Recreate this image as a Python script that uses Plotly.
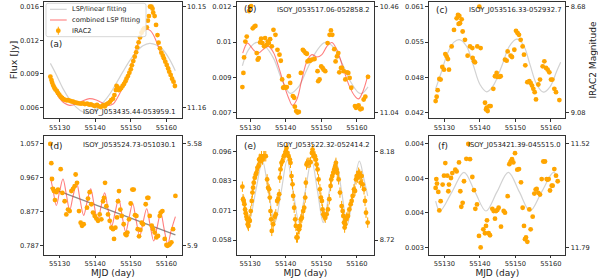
import numpy as np
import plotly.graph_objects as go

MJY = 1e-3
FONT = "DejaVu Sans"

x_tick_vals = [55130, 55140, 55150, 55160]
x_tick_text = ["55130", "55140", "55150", "55160"]

# ---------------- panel (a) ----------------
a_mjd = [55127.4, 55127.7, 55127.9, 55128.2, 55128.5, 55128.8, 55129.2, 55129.5, 55129.9, 55130.3,
         55130.7, 55131.0, 55131.4, 55131.9, 55132.3, 55132.8, 55133.3, 55133.8, 55134.3, 55134.9,
         55135.4, 55136.0, 55136.6, 55137.1, 55137.7, 55138.3, 55138.8, 55139.4, 55139.9, 55140.5,
         55141.1, 55141.6, 55142.2, 55142.7, 55143.1, 55143.6, 55144.1, 55144.5, 55145.0, 55145.4,
         55145.8, 55146.0, 55146.3, 55146.6, 55147.0, 55147.3, 55147.7, 55148.1, 55148.5, 55148.8,
         55149.2, 55149.6, 55150.0, 55150.3, 55150.7, 55151.1, 55151.5, 55151.8, 55152.2, 55152.6,
         55153.0, 55153.4, 55153.7, 55154.1, 55154.5, 55154.8, 55155.1, 55155.4, 55155.8, 55156.1,
         55156.3, 55156.7, 55157.1, 55157.5, 55157.8, 55158.2, 55158.6, 55159.0, 55159.3, 55159.7,
         55160.1, 55160.5, 55160.8, 55161.2, 55161.6, 55162.0, 55162.4]
a_flux_mjy = [9.06, 8.74, 8.49, 8.24, 8.02, 7.86, 7.71, 7.52, 7.36, 7.17,
              7.05, 6.95, 6.89, 6.83, 6.86, 6.80, 6.73, 6.70, 6.64, 6.58,
              6.55, 6.52, 6.55, 6.48, 6.52, 6.42, 6.45, 6.36, 6.29, 6.39,
              6.26, 6.20, 6.36, 6.26, 6.45, 6.55, 6.67, 6.86, 6.99, 7.33,
              7.80, 8.18, 8.05, 7.80, 7.87, 7.99, 8.18, 8.37, 8.62, 8.87,
              9.12, 9.43, 9.75, 10.13, 10.53, 10.94, 11.35, 11.82, 12.29, 12.76,
              13.20, 13.45, 13.58, 13.64, 13.71, 14.33, 14.77, 15.65, 15.65, 15.46,
              15.09, 14.77, 13.93, 12.98, 12.26, 11.73, 11.32, 11.04, 10.79, 10.47,
              10.16, 9.84, 9.53, 9.22, 8.87, 8.59, 8.18]
a_lsp_mjd = [55127.4, 55129.1, 55130.9, 55132.8, 55134.7, 55136.6, 55138.4, 55140.3, 55142.2, 55144.1,
             55145.9, 55147.8, 55149.7, 55151.6, 55153.4, 55155.3, 55157.2, 55159.1, 55160.9, 55162.5]
a_lsp_mjy = [10.31, 9.22, 7.96, 6.92, 6.17, 5.73, 5.67, 5.98, 6.61, 7.43,
             8.43, 9.53, 10.57, 11.41, 11.98, 12.2, 12.04, 11.57, 10.69, 9.62]
a_comb_mjd = [55127.4, 55128.6, 55130.0, 55131.4, 55132.8, 55134.7, 55136.6, 55138.4, 55140.3, 55142.2,
              55143.6, 55145.0, 55146.4, 55147.8, 55149.2, 55150.6, 55152.0, 55153.3, 55154.4, 55155.5,
              55156.7, 55158.1, 55159.5, 55160.9, 55162.5]
a_comb_mjy = [8.90, 7.86, 7.02, 6.55, 6.36, 6.48, 6.80, 6.99, 6.86, 6.55,
              6.36, 6.48, 7.17, 8.12, 9.22, 10.63, 12.2, 13.2, 13.55, 13.39,
              12.76, 11.57, 10.47, 9.53, 8.43]
a_ytick_text = ["0.006", "0.009", "0.012", "0.016"]
a_mag_text = ["11.16", "10.15"]
a_flux_ends = [0.00617, 0.01565]

# ---------------- panel (b) ----------------
b_mjd = [55127.85, 55128.13, 55128.32, 55128.69, 55129.07, 55129.72, 55130.0, 55130.29, 55130.76, 55131.22,
         55131.5, 55131.88, 55132.16, 55132.44, 55132.82, 55133.1, 55133.47, 55133.94, 55134.22, 55134.69,
         55134.97, 55135.26, 55135.63, 55136.1, 55136.57, 55137.13, 55137.69, 55138.26, 55138.63, 55139.0,
         55139.29, 55139.66, 55140.04, 55140.32, 55140.88, 55141.26, 55142.01, 55142.38, 55142.57, 55142.94,
         55143.32, 55143.69, 55144.25, 55144.82, 55145.19, 55145.57, 55145.94, 55146.13, 55146.5, 55146.88,
         55147.35, 55148.1, 55148.94, 55149.13, 55149.5, 55149.97, 55150.35, 55150.63, 55151.1, 55151.76,
         55152.32, 55152.69, 55153.07, 55153.63, 55154.0, 55154.38, 55154.76, 55155.04, 55155.51, 55155.79,
         55156.26, 55156.73, 55157.19, 55157.57, 55157.94, 55158.41, 55159.44, 55159.72, 55160.0, 55160.47,
         55160.94, 55161.32, 55161.88, 55162.35, 55163.1]
b_flux_mjy = [8.07, 8.72, 9.43, 10.16, 10.39, 11.56, 11.73, 11.79, 10.77, 10.85,
              10.88, 9.63, 9.33, 9.40, 10.12, 10.29, 10.09, 9.94, 10.32, 10.01,
              10.16, 10.09, 10.27, 9.94, 10.70, 10.47, 9.78, 9.56, 9.28, 8.42,
              8.04, 8.08, 8.04, 8.07, 8.57, 8.26, 7.66, 7.58, 7.17, 6.97,
              6.90, 6.93, 8.72, 9.78, 9.71, 9.63, 9.60, 9.25, 9.30, 9.28,
              9.33, 9.36, 8.80, 8.34, 8.42, 9.02, 8.95, 8.87, 8.80, 10.09,
              10.47, 10.67, 10.47, 9.81, 9.25, 9.48, 9.63, 8.75, 8.95, 8.95,
              8.80, 8.42, 8.75, 8.72, 8.49, 8.04, 7.20, 7.12, 7.17, 7.23,
              7.05, 7.08, 7.50, 7.63, 8.54]
b_lsp_mjd = [55127.85, 55129.54, 55131.88, 55134.22, 55136.57, 55138.91, 55141.26, 55143.6, 55145.94,
             55148.29, 55150.63, 55151.57, 55153.44, 55155.79, 55158.13, 55160.47, 55161.41, 55163.1]
b_lsp_mjy = [9.05, 9.78, 10.12, 9.94, 9.40, 8.42, 7.78, 8.08, 8.87,
             9.63, 10.09, 10.12, 9.89, 9.18, 8.34, 7.81, 7.78, 8.08]
b_comb_mjd = [55127.94, 55129.26, 55130.19, 55131.13, 55132.35, 55133.76, 55135.16, 55136.57, 55137.97,
              55139.38, 55140.79, 55141.91, 55143.13, 55144.54, 55145.94, 55147.35, 55148.76, 55150.16,
              55151.57, 55152.97, 55154.38, 55156.26, 55157.94, 55159.54, 55160.47, 55161.69, 55163.1]
b_comb_mjy = [9.63, 10.09, 9.94, 9.75, 9.63, 9.81, 9.94, 9.66, 9.02,
              8.26, 7.58, 7.23, 7.50, 8.42, 9.25, 9.56, 9.45, 9.56,
              9.94, 10.12, 9.78, 8.87, 8.08, 7.63, 7.53, 7.88, 8.64]
b_ytick_text = ["0.007", "0.009", "0.01", "0.012"]
b_mag_text = ["11.04", "10.46"]
b_flux_ends = [0.006895, 0.01176]

# ---------------- panel (c) ----------------
c_mjd = [55127.56, 55127.85, 55128.13, 55128.6, 55128.97, 55129.44, 55129.91, 55130.28, 55130.66, 55131.03,
         55131.31, 55132.06, 55132.72, 55133.47, 55133.85, 55134.03, 55134.22, 55134.41, 55134.88, 55135.16,
         55135.81, 55136.56, 55137.22, 55137.88, 55137.97, 55138.35, 55138.63, 55139.28, 55139.85, 55140.22,
         55141.44, 55141.72, 55141.91, 55142.19, 55142.66, 55143.03, 55143.78, 55144.25, 55144.72, 55145.0,
         55145.47, 55145.85, 55147.06, 55147.53, 55147.81, 55148.66, 55149.03, 55149.69, 55150.16, 55150.63,
         55151.0, 55151.47, 55152.03, 55152.41, 55152.78, 55153.35, 55153.91, 55154.28, 55154.66, 55155.03,
         55155.41, 55155.78, 55156.44, 55156.91, 55157.66, 55158.13, 55158.6, 55159.06, 55159.53, 55160.0,
         55160.38, 55160.94, 55161.41, 55162.35]
c_flux_mjy = [44.26, 45.03, 46.20, 48.20, 48.08, 50.31, 49.84, 52.60, 52.19, 51.72,
              49.84, 53.96, 56.89, 58.95, 59.54, 57.95, 59.36, 58.07, 58.77, 56.60,
              55.13, 52.31, 53.96, 53.66, 51.90, 51.31, 51.13, 53.96, 61.0, 53.66,
              43.97, 42.79, 43.09, 42.50, 43.38, 43.38, 46.43, 48.67, 49.26, 48.55,
              48.55, 48.67, 51.60, 51.43, 53.07, 52.31, 52.08, 53.37, 56.72, 56.31,
              56.01, 55.13, 53.96, 52.49, 50.61, 47.61, 47.79, 47.49, 47.02, 46.43,
              45.85, 44.56, 47.20, 48.08, 50.43, 51.31, 50.14, 49.84, 49.37, 48.08,
              48.08, 46.43, 45.85, 44.44]
c_lsp_mjd = [55127.56, 55129.25, 55130.94, 55132.72, 55134.41, 55136.28, 55138.16, 55140.03, 55141.91, 55143.78,
             55146.13, 55148.28, 55150.35, 55152.22, 55154.1, 55155.97, 55157.85, 55159.72, 55161.6, 55162.72]
c_lsp_mjy = [46.43, 49.55, 52.78, 54.72, 55.13, 53.96, 50.61, 47.2, 45.91, 47.02,
             50.43, 53.96, 55.25, 54.25, 50.72, 47.2, 45.85, 46.79, 49.55, 51.13]
c_ytick_text = ["0.042", "0.048", "0.055", "0.061"]
c_mag_text = ["9.08", "8.68"]
c_flux_ends = [0.0422, 0.0610]

# ---------------- panel (d) ----------------
d_mjd = [55127.38, 55127.66, 55127.85, 55128.13, 55128.41, 55128.69, 55129.07, 55129.54, 55130.29, 55130.76,
         55131.41, 55131.88, 55132.35, 55132.82, 55133.29, 55133.76, 55134.22, 55134.5, 55134.88, 55135.44,
         55135.91, 55136.29, 55136.76, 55137.69, 55137.97, 55138.44, 55138.91, 55139.38, 55139.85, 55140.32,
         55140.79, 55141.26, 55141.72, 55142.19, 55142.47, 55142.76, 55143.13, 55143.6, 55144.07, 55144.54,
         55145.01, 55145.29, 55145.66, 55146.13, 55146.41, 55146.69, 55147.07, 55147.44, 55148.0, 55148.47,
         55148.76, 55149.04, 55149.51, 55149.97, 55150.44, 55150.82, 55151.19, 55151.57, 55151.94, 55152.32,
         55152.69, 55153.07, 55153.44, 55154.19, 55154.66, 55154.94, 55155.32, 55155.88, 55156.26, 55156.72,
         55157.19, 55157.66, 55158.13, 55158.41, 55158.88, 55159.54, 55160.01, 55160.29, 55160.66, 55160.94,
         55161.41, 55161.88, 55162.54]
d_flux_jy = [1.057, 1.006, 0.964, 0.938, 0.932, 0.908, 0.929, 0.936, 0.990, 0.927,
             0.905, 0.870, 0.883, 0.879, 0.932, 0.938, 0.945, 0.976, 0.954, 0.879,
             0.848, 0.840, 0.844, 0.888, 0.912, 0.929, 0.897, 0.875, 0.866, 0.859,
             0.853, 0.870, 0.857, 0.905, 0.914, 0.954, 0.892, 0.870, 0.853, 0.835,
             0.831, 0.805, 0.835, 0.862, 0.905, 0.932, 0.883, 0.866, 0.844, 0.818,
             0.815, 0.822, 0.857, 0.899, 0.936, 0.936, 0.868, 0.866, 0.831, 0.812,
             0.829, 0.848, 0.844, 0.897, 0.914, 0.914, 0.866, 0.840, 0.831, 0.822,
             0.809, 0.813, 0.866, 0.875, 0.879, 0.805, 0.789, 0.787, 0.789, 0.791,
             0.796, 0.831, 0.919]
d_lsp_mjd = [55127.38, 55162.54]
d_lsp_jy = [0.9404, 0.8159]
d_comb_mjd = [55127.38, 55128.13, 55129.07, 55130.0, 55130.94, 55131.88, 55132.82, 55133.76, 55134.79, 55135.72,
              55136.76, 55137.69, 55138.72, 55139.66, 55140.69, 55141.63, 55142.66, 55143.6, 55144.63, 55145.57,
              55146.6, 55147.54, 55148.57, 55149.51, 55150.54, 55151.47, 55152.51, 55153.44, 55154.47, 55155.41,
              55156.44, 55157.38, 55158.41, 55159.35, 55160.38, 55161.32, 55162.54]
d_comb_jy = [0.9700, 0.9360, 0.8939, 0.9316, 0.9641, 0.9229, 0.8817, 0.9185, 0.9535, 0.9097,
             0.8676, 0.9027, 0.9378, 0.8966, 0.8527, 0.8904, 0.9272, 0.8834, 0.8396, 0.8746,
             0.9115, 0.8676, 0.8238, 0.8615, 0.8992, 0.8554, 0.8133, 0.8484, 0.8852, 0.8422,
             0.7998, 0.8352, 0.8746, 0.8326, 0.7914, 0.8265, 0.8641]
d_ytick_text = ["0.787", "0.877", "0.967", "1.057"]
d_mag_text = ["5.9", "5.58"]
d_flux_ends = [0.787, 1.057]

# ---------------- panel (e) ----------------
e_mjd = [55127.85, 55128.04, 55128.23, 55128.42, 55128.6, 55128.79, 55128.98, 55129.17, 55129.35, 55129.54,
         55129.73, 55129.92, 55130.2, 55130.48, 55130.67, 55130.85, 55131.04, 55131.32, 55131.6, 55131.79,
         55132.07, 55132.35, 55132.54, 55132.73, 55133.01, 55133.2, 55133.48, 55133.85, 55134.13, 55134.42,
         55134.79, 55135.07, 55135.35, 55135.54, 55135.73, 55135.91, 55136.1, 55136.48, 55136.95, 55137.23,
         55137.6, 55137.88, 55138.17, 55138.35, 55138.54, 55138.82, 55139.1, 55139.48, 55139.76, 55140.04,
         55140.23, 55140.51, 55140.79, 55141.17, 55141.35, 55141.63, 55141.92, 55142.1, 55142.38, 55142.67,
         55142.85, 55143.04, 55143.32, 55143.6, 55143.79, 55143.98, 55144.26, 55144.54, 55144.91, 55145.2,
         55145.48, 55145.66, 55145.85, 55146.04, 55146.32, 55146.6, 55146.98, 55147.35, 55147.54, 55147.73,
         55147.91, 55148.2, 55148.48, 55148.67, 55148.95, 55149.23, 55149.6, 55149.88, 55150.16, 55150.35,
         55150.54, 55150.82, 55151.1, 55151.48, 55151.85, 55152.23, 55152.6, 55152.79, 55153.07, 55153.35,
         55153.63, 55153.91, 55154.1, 55154.29, 55154.48, 55154.85, 55155.23, 55155.7, 55155.98, 55156.17,
         55156.35, 55156.54, 55156.73, 55156.92, 55157.1, 55157.48, 55157.85, 55158.23, 55158.51, 55158.79,
         55159.17, 55159.45, 55159.73, 55159.92, 55160.2, 55160.48, 55160.76, 55161.04, 55161.32, 55161.6,
         55161.98, 55162.26, 55162.54, 55163.01]
e_flux_mjy = [81.0, 75.7, 75.0, 73.6, 71.4, 69.8, 68.3, 67.2, 65.1, 64.4,
              67.2, 66.5, 70.7, 75.0, 78.5, 80.6, 82.7, 84.8, 86.2, 86.9,
              89.0, 89.7, 92.5, 92.8, 91.8, 93.9, 92.5, 93.9, 93.9, 93.9,
              84.1, 80.6, 79.9, 76.4, 70.7, 67.2, 62.3, 65.1, 68.3, 69.3,
              75.0, 75.7, 77.8, 84.8, 88.3, 91.1, 91.8, 93.9, 94.6, 96.0,
              97.4, 95.3, 93.9, 92.5, 91.1, 85.5, 82.0, 77.1, 72.1, 67.2,
              64.4, 59.5, 59.5, 63.0, 63.0, 64.4, 67.2, 67.9, 70.7, 72.1,
              76.4, 82.7, 90.4, 91.1, 91.1, 91.1, 91.4, 95.3, 96.7, 95.0,
              93.9, 93.9, 92.5, 90.4, 88.3, 84.1, 79.9, 76.4, 75.0, 71.4,
              69.3, 68.6, 67.9, 69.3, 71.4, 75.7, 81.3, 84.1, 85.5, 86.9,
              88.3, 89.7, 91.1, 88.3, 86.9, 84.1, 78.5, 72.8, 70.7, 68.6,
              65.8, 63.7, 65.1, 67.2, 67.9, 68.6, 71.4, 73.6, 75.0, 77.1,
              79.9, 79.2, 84.1, 85.5, 84.8, 86.9, 86.2, 82.7, 85.5, 82.0,
              79.9, 75.0, 70.0, 65.8]
e_flux_err_jy = 0.0022
e_lsp_mjd = [55127.85, 55128.79, 55129.73, 55131.6, 55133.48, 55135.17, 55136.95, 55138.73, 55140.42, 55142.1,
             55143.79, 55145.48, 55147.26, 55148.95, 55150.54, 55152.23, 55154.01, 55155.7, 55157.29, 55158.98,
             55160.67, 55161.98, 55163.01]
e_lsp_mjy = [77.1, 70.7, 66.5, 79.2, 91.8, 78.9, 65.8, 78.9, 92.2, 78.9,
             65.8, 78.9, 92.2, 78.9, 65.8, 78.9, 92.5, 78.9, 65.1, 78.9,
             91.8, 84.1, 77.1]
e_ytick_text = ["0.058", "0.071", "0.083", "0.096"]
e_mag_text = ["8.72", "8.18"]
e_flux_ends = [0.0584, 0.0960]

# ---------------- panel (f) ----------------
f_mjd = [55127.56, 55127.75, 55127.94, 55128.31, 55128.6, 55128.97, 55129.53, 55129.91, 55130.28, 55130.85,
         55131.13, 55131.31, 55131.88, 55132.25, 55133.09, 55133.47, 55134.13, 55134.5, 55134.78, 55135.16,
         55135.53, 55136.19, 55136.75, 55137.22, 55137.88, 55138.35, 55138.72, 55139.19, 55139.75, 55140.22,
         55140.97, 55141.44, 55141.72, 55142.0, 55142.47, 55142.85, 55143.5, 55143.88, 55144.25, 55144.53,
         55144.91, 55145.28, 55145.94, 55146.69, 55147.06, 55147.81, 55148.28, 55148.66, 55149.03, 55149.41,
         55149.88, 55150.53, 55151.0, 55151.56, 55152.03, 55152.41, 55152.69, 55152.97, 55153.35, 55153.91,
         55154.28, 55154.85, 55155.31, 55155.69, 55155.97, 55156.44, 55156.91, 55157.38, 55157.85, 55158.31,
         55158.78, 55159.06, 55159.35, 55159.72, 55160.19, 55160.47, 55160.94, 55161.41, 55161.88]
f_flux_mjy = [4.016, 4.100, 4.057, 3.979, 3.805, 3.892, 4.048, 4.132, 4.250, 4.132,
              3.985, 4.048, 4.110, 4.156, 4.188, 4.172, 4.256, 3.985, 3.839, 3.876,
              4.079, 4.290, 4.430, 4.287, 4.119, 3.995, 3.820, 3.861, 3.565, 3.456,
              3.627, 3.590, 3.659, 3.711, 3.590, 3.571, 3.820, 3.799, 3.727, 3.799,
              3.808, 3.830, 3.652, 3.799, 3.783, 3.939, 4.240, 4.265, 4.287, 4.256,
              4.343, 4.188, 4.194, 4.069, 3.830, 3.659, 3.534, 3.550, 3.509, 3.814,
              3.627, 3.746, 3.963, 4.001, 4.007, 3.970, 3.954, 4.100, 4.265, 4.265,
              4.100, 4.094, 4.100, 3.992, 4.038, 4.038, 4.194, 4.132, 4.079]
f_lsp_mjd = [55127.56, 55128.78, 55132.16, 55135.53, 55138.63, 55141.72, 55144.81, 55148.0, 55151.1,
             55154.1, 55157.38, 55160.66, 55161.78]
f_lsp_mjy = [3.892, 3.799, 3.979, 4.163, 3.979, 3.799, 3.979, 4.163, 3.979,
             3.799, 3.979, 4.163, 4.13]
f_ytick_text = ["0.003", "0.004", "0.004", "0.004"]
f_mag_text = ["11.79", "11.52"]
f_flux_ends = [0.003456, 0.00443]

legend_labels = ["LSP/linear fitting", "combined LSP fitting", "IRAC2"]


def jy(v, scale=MJY):
    return (np.array(v, dtype=float) * scale).tolist()


W, H = 598, 278


def px(xp):
    return xp / W


def py(yp):
    return 1 - yp / H


LIGHT = "#d2d2d2"
RED = "rgba(255,40,40,0.6)"
ORANGE = "orange"

# layout geometry (paper fractions)
COLS = [[0.0741, 0.3038], [0.3958, 0.6259], [0.7179, 0.9453]]
ROWS = [[0.5745, 0.9939], [0.0827, 0.5119]]
XR = [[55125.69, 55164.30], [55126.25, 55164.86], [55125.78, 55164.02]]

panels = [
    dict(tag="(a)", star="ISOY_J053435.44-053959.1", t=a_mjd, f=jy(a_flux_mjy),
         lsp=(a_lsp_mjd, jy(a_lsp_mjy)), comb=(a_comb_mjd, jy(a_comb_mjy)), err=None,
         ytext=a_ytick_text, mtext=a_mag_text, ends=a_flux_ends, yr=[0.00514, 0.01612],
         col=0, row=0, lspc=LIGHT, tagpos=(0.03, 0.635), starpos=(0.975, 0.05)),
    dict(tag="(b)", star="ISOY_J053517.06-052858.2", t=b_mjd, f=jy(b_flux_mjy),
         lsp=(b_lsp_mjd, jy(b_lsp_mjy)), comb=(b_comb_mjd, jy(b_comb_mjy)), err=None,
         ytext=b_ytick_text, mtext=b_mag_text, ends=b_flux_ends, yr=[0.006638, 0.01199],
         col=1, row=0, lspc=LIGHT, tagpos=(0.035, 0.935), starpos=(0.985, 0.93)),
    dict(tag="(c)", star="ISOY_J053516.33-052932.7", t=c_mjd, f=jy(c_flux_mjy),
         lsp=(c_lsp_mjd, jy(c_lsp_mjy)), comb=None, err=None,
         ytext=c_ytick_text, mtext=c_mag_text, ends=c_flux_ends, yr=[0.04121, 0.06189],
         col=2, row=0, lspc=LIGHT, tagpos=(0.035, 0.93), starpos=(0.99, 0.93)),
    dict(tag="(d)", star="ISOY_J053524.73-051030.1", t=d_mjd, f=jy(d_flux_jy, 1.0),
         lsp=(d_lsp_mjd, jy(d_lsp_jy, 1.0)), comb=(d_comb_mjd, jy(d_comb_jy, 1.0)), err=None,
         ytext=d_ytick_text, mtext=d_mag_text, ends=d_flux_ends, yr=[0.7624, 1.0789],
         col=0, row=1, lspc="#8c8c8c", tagpos=(0.025, 0.915), starpos=(0.975, 0.92)),
    dict(tag="(e)", star="ISOY_J053522.32-052414.2", t=e_mjd, f=jy(e_flux_mjy),
         lsp=(e_lsp_mjd, jy(e_lsp_mjy)), comb=None, err=e_flux_err_jy,
         ytext=e_ytick_text, mtext=e_mag_text, ends=e_flux_ends, yr=[0.05209, 0.10259],
         col=1, row=1, lspc=LIGHT, tagpos=(0.035, 0.915), starpos=(0.985, 0.918)),
    dict(tag="(f)", star="ISOY_J053421.39-045515.0", t=f_mjd, f=jy(f_flux_mjy),
         lsp=(f_lsp_mjd, jy(f_lsp_mjy)), comb=None, err=None,
         ytext=f_ytick_text, mtext=f_mag_text, ends=f_flux_ends, yr=[0.003385, 0.004508],
         col=2, row=1, lspc=LIGHT, tagpos=(0.05, 0.915), starpos=(0.985, 0.918)),
]

AX = "#333333"
TXT = "#222222"
tickfont = dict(family=FONT, size=6.7, color=TXT)

fig = go.Figure()
layout = {}
annotations = []
shapes = []

for k, p in enumerate(panels, start=1):
    xs = "" if k == 1 else str(k)
    xa, ya, ya2 = "x" + xs, "y" + xs, "y" + str(k + 6)
    lt, lf = p["lsp"]
    fig.add_trace(go.Scatter(
        x=lt, y=lf, mode="lines", name=legend_labels[0],
        line=dict(color=p["lspc"], width=1.2, shape="linear" if len(lt) == 2 else "spline"),
        xaxis=xa, yaxis=ya, hoverinfo="skip"))
    if p["comb"] is not None:
        ct, cf = p["comb"]
        fig.add_trace(go.Scatter(
            x=ct, y=cf, mode="lines", name=legend_labels[1],
            line=dict(color=RED, width=1.1, shape="spline"),
            xaxis=xa, yaxis=ya, hoverinfo="skip"))
    pts = dict(x=p["t"], y=p["f"], mode="markers", name=legend_labels[2],
               marker=dict(color=ORANGE, size=4.8, line=dict(width=0)),
               xaxis=xa, yaxis=ya2, hoverinfo="skip")
    if p["err"] is not None:
        pts["error_y"] = dict(type="constant", value=p["err"], color=ORANGE,
                              thickness=1, width=0)
    fig.add_trace(go.Scatter(**pts))

    lo, hi = p["ends"]
    yt = np.linspace(lo, hi, 4).tolist()
    xdom = COLS[p["col"]]
    ydom = ROWS[p["row"]]
    common = dict(showgrid=False, zeroline=False, ticks="outside",
                  tickwidth=0.8, tickcolor=AX, tickfont=tickfont, automargin=False)
    layout["xaxis" + xs] = dict(
        domain=xdom, anchor=ya, range=XR[p["col"]], tickvals=x_tick_vals, ticktext=x_tick_text,
        showline=True, mirror=True, linecolor=AX, linewidth=0.8, ticklen=2.5, **common)
    layout["yaxis" + xs] = dict(
        domain=ydom, anchor=xa, range=p["yr"], tickvals=yt, ticktext=p["ytext"],
        showline=True, mirror=True, linecolor=AX, linewidth=0.8, ticklen=3, **common)
    layout["yaxis" + str(k + 6)] = dict(
        overlaying=ya, anchor=xa, side="right", range=p["yr"], tickvals=[lo, hi],
        ticktext=p["mtext"], showline=False, ticklen=3, **common)
    if p["row"] == 1:
        layout["xaxis" + xs]["title"] = dict(text="MJD (day)", standoff=4,
                                             font=dict(family=FONT, size=9.0, color=TXT))

    annotations.append(dict(
        text=p["tag"], xref=xa + " domain", yref=ya + " domain", x=p["tagpos"][0], y=p["tagpos"][1],
        xanchor="left", yanchor="middle", showarrow=False,
        font=dict(family=FONT, size=8.8, color=TXT)))
    annotations.append(dict(
        text=p["star"], xref=xa + " domain", yref=ya + " domain", x=p["starpos"][0], y=p["starpos"][1],
        xanchor="right", yanchor="middle", showarrow=False,
        font=dict(family=FONT, size=6.8, color=TXT)))

layout["yaxis"]["title"] = dict(text="Flux [Jy]", standoff=0, font=dict(family=FONT, size=9.5, color=TXT))
layout["yaxis9"]["title"] = dict(text="IRAC2 Magnitude", standoff=6, font=dict(family=FONT, size=9, color=TXT))

# ---- legend box drawn in panel (a), matplotlib style ----
LX0, LX1, LY0, LY1, R = 46, 146, 3.3, 36.7, 2.0
shapes.append(dict(
    type="path", xref="paper", yref="paper", layer="above",
    path=(f"M {px(LX0 + R)},{py(LY0)} L {px(LX1 - R)},{py(LY0)} Q {px(LX1)},{py(LY0)} {px(LX1)},{py(LY0 + R)} "
          f"L {px(LX1)},{py(LY1 - R)} Q {px(LX1)},{py(LY1)} {px(LX1 - R)},{py(LY1)} "
          f"L {px(LX0 + R)},{py(LY1)} Q {px(LX0)},{py(LY1)} {px(LX0)},{py(LY1 - R)} "
          f"L {px(LX0)},{py(LY0 + R)} Q {px(LX0)},{py(LY0)} {px(LX0 + R)},{py(LY0)} Z"),
    fillcolor="rgba(255,255,255,0.8)", line=dict(color="#cccccc", width=0.8)))
rows_y = [9.3, 20.0, 30.7]
shapes.append(dict(type="line", xref="paper", yref="paper", layer="above",
                   x0=px(50), x1=px(66.7), y0=py(rows_y[0]), y1=py(rows_y[0]),
                   line=dict(color=LIGHT, width=1.2)))
shapes.append(dict(type="line", xref="paper", yref="paper", layer="above",
                   x0=px(50), x1=px(66.7), y0=py(rows_y[1]), y1=py(rows_y[1]),
                   line=dict(color=RED, width=1.1)))
shapes.append(dict(type="line", xref="paper", yref="paper", layer="above",
                   x0=px(58.3), x1=px(58.3), y0=py(rows_y[2] - 4), y1=py(rows_y[2] + 4),
                   line=dict(color=ORANGE, width=1)))
shapes.append(dict(type="circle", xref="paper", yref="paper", layer="above",
                   x0=px(58.3 - 2.4), x1=px(58.3 + 2.4), y0=py(rows_y[2] - 2.4), y1=py(rows_y[2] + 2.4),
                   fillcolor=ORANGE, line=dict(width=0)))
for lab, yy in zip(legend_labels, rows_y):
    annotations.append(dict(text=lab, xref="paper", yref="paper", x=px(70.0), y=py(yy),
                            xanchor="left", yanchor="middle", showarrow=False,
                            font=dict(family=FONT, size=6.6, color=TXT)))

fig.update_layout(
    width=W, height=H, margin=dict(l=0, r=0, t=0, b=0),
    paper_bgcolor="white", plot_bgcolor="white",
    font=dict(family=FONT, size=7, color=TXT),
    showlegend=False,
    annotations=annotations, shapes=shapes,
    **layout,
)

fig.write_html("out.html", config={"displayModeBar": False},
               post_script="document.body.style.margin='0px';document.body.style.overflow='hidden';")
